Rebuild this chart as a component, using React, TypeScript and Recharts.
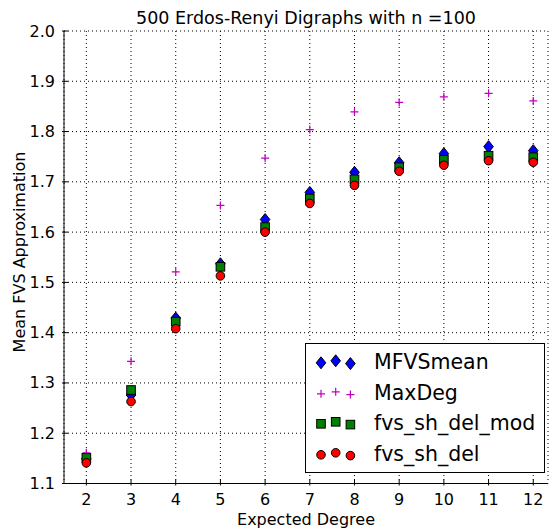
import { ScatterChart, Scatter, XAxis, YAxis, CartesianGrid } from 'recharts';

const degrees = [2, 3, 4, 5, 6, 7, 8, 9, 10, 11, 12];
const mfvsMean = [1.149, 1.276, 1.429, 1.537, 1.625, 1.679, 1.719, 1.738, 1.756, 1.770, 1.762];
const maxDeg = [1.161, 1.343, 1.521, 1.653, 1.747, 1.804, 1.839, 1.858, 1.869, 1.876, 1.861];
const fvsShDelMod = [1.151, 1.286, 1.422, 1.531, 1.610, 1.667, 1.705, 1.729, 1.744, 1.752, 1.749];
const fvsShDel = [1.141, 1.263, 1.408, 1.513, 1.600, 1.657, 1.693, 1.721, 1.733, 1.742, 1.739];
const yTicks = [1.1, 1.2, 1.3, 1.4, 1.5, 1.6, 1.7, 1.8, 1.9, 2.0];

const toPoints = (vals: number[]) => degrees.map((d, i) => ({ x: d, y: vals[i] }));

const FONT = 'DejaVu Sans, sans-serif';

const Diamond = ({ cx, cy }: any) => (
  <polygon
    points={`${cx},${cy - 6} ${cx + 4.8},${cy} ${cx},${cy + 6} ${cx - 4.8},${cy}`}
    fill='#0000ff'
    stroke='#000'
    strokeWidth={1}
  />
);

const Plus = ({ cx, cy }: any) => (
  <path d={`M${cx - 4},${cy}H${cx + 4}M${cx},${cy - 4}V${cy + 4}`} stroke='#bf00bf' strokeWidth={1.2} />
);

const Square = ({ cx, cy }: any) => (
  <rect x={cx - 4.3} y={cy - 4.3} width={8.6} height={8.6} fill='#008000' stroke='#000' strokeWidth={1} />
);

const Dot = ({ cx, cy }: any) => <circle cx={cx} cy={cy} r={4.3} fill='#ff0000' stroke='#000' strokeWidth={1} />;

const BottomTick = ({ x, y, payload }: any) => (
  <g>
    <line x1={x} y1={y} x2={x} y2={y - 6} stroke='#000' />
    <text x={x} y={y + 19} textAnchor='middle' fontFamily={FONT} fontSize={16} fill='#000'>
      {payload.value}
    </text>
  </g>
);

const TopTick = ({ x, y }: any) => <line x1={x} y1={y} x2={x} y2={y + 6} stroke='#000' />;

const LeftTick = ({ x, y, payload }: any) => (
  <g>
    <line x1={x} y1={y} x2={x + 6} y2={y} stroke='#000' />
    <text x={x - 7} y={y + 5.5} textAnchor='end' fontFamily={FONT} fontSize={16} fill='#000'>
      {payload.value.toFixed(1)}
    </text>
  </g>
);

const RightTick = ({ x, y }: any) => <line x1={x} y1={y} x2={x - 6} y2={y} stroke='#000' />;

const legendItems = [
  { name: 'MFVSmean', Mark: Diamond },
  { name: 'MaxDeg', Mark: Plus },
  { name: 'fvs_sh_del_mod', Mark: Square },
  { name: 'fvs_sh_del', Mark: Dot },
];
const jitter = [0.8, -1.2, 1.6];

export default function App() {
  return (
    <div style={{ position: 'absolute', left: 0, top: 0, width: 554, height: 530, background: '#fff' }}>
      <div
        style={{
          position: 'absolute',
          left: 64,
          width: 484,
          top: 8,
          lineHeight: '20px',
          textAlign: 'center',
          fontFamily: FONT,
          fontSize: 17.5,
          color: '#000',
        }}>
        500 Erdos-Renyi Digraphs with n =100
      </div>
      <div
        style={{
          position: 'absolute',
          left: 64,
          width: 484,
          top: 510,
          lineHeight: '20px',
          textAlign: 'center',
          fontFamily: FONT,
          fontSize: 16,
          color: '#000',
        }}>
        Expected Degree
      </div>
      <div
        style={{
          position: 'absolute',
          left: 19,
          top: 252,
          transform: 'translate(-50%, -50%) rotate(-90deg)',
          whiteSpace: 'nowrap',
          fontFamily: FONT,
          fontSize: 16,
          color: '#000',
        }}>
        Mean FVS Approximation
      </div>
      <ScatterChart width={554} height={530} margin={{ top: 31, right: 6, bottom: 0, left: 0 }}>
        <CartesianGrid xAxisId='b' yAxisId='l' stroke='#000' strokeDasharray='1 3' />
        <XAxis
          type='number'
          dataKey='x'
          xAxisId='b'
          domain={[1.5, 12.33]}
          ticks={degrees}
          allowDataOverflow
          height={46.5}
          tickLine={false}
          tickSize={0}
          tick={<BottomTick />}
          axisLine={{ stroke: '#000', strokeWidth: 1 }}
        />
        <XAxis
          type='number'
          dataKey='x'
          xAxisId='t'
          orientation='top'
          domain={[1.5, 12.33]}
          ticks={degrees}
          allowDataOverflow
          height={0}
          tickLine={false}
          tickSize={0}
          tick={<TopTick />}
          axisLine={{ stroke: '#000', strokeWidth: 1 }}
        />
        <YAxis
          type='number'
          dataKey='y'
          yAxisId='l'
          domain={[1.1, 2.0]}
          ticks={yTicks}
          allowDataOverflow
          width={64}
          tickLine={false}
          tickSize={0}
          tick={<LeftTick />}
          axisLine={{ stroke: '#000', strokeWidth: 1 }}
        />
        <YAxis
          type='number'
          dataKey='y'
          yAxisId='r'
          orientation='right'
          domain={[1.1, 2.0]}
          ticks={yTicks}
          allowDataOverflow
          width={0}
          tickLine={false}
          tickSize={0}
          tick={<RightTick />}
          axisLine={{ stroke: '#000', strokeWidth: 1 }}
        />
        <Scatter name='MFVSmean' data={toPoints(mfvsMean)} xAxisId='b' yAxisId='l' shape={<Diamond />} isAnimationActive={false} />
        <Scatter name='MaxDeg' data={toPoints(maxDeg)} xAxisId='b' yAxisId='l' shape={<Plus />} isAnimationActive={false} />
        <Scatter name='fvs_sh_del_mod' data={toPoints(fvsShDelMod)} xAxisId='b' yAxisId='l' shape={<Square />} isAnimationActive={false} />
        <Scatter name='fvs_sh_del' data={toPoints(fvsShDel)} xAxisId='b' yAxisId='l' shape={<Dot />} isAnimationActive={false} />
      </ScatterChart>
      <div
        style={{
          position: 'absolute',
          left: 305,
          top: 343,
          width: 238,
          height: 128,
          border: '1px solid #000',
          background: '#fff',
          fontFamily: FONT,
          fontSize: 20.5,
          color: '#000',
        }}>
        {legendItems.map(({ name, Mark }, i) => (
          <div key={name} style={{ position: 'absolute', left: 0, top: 3 + i * 30.5, height: 30, width: 238 }}>
            <svg width={60} height={30} style={{ position: 'absolute', left: 0, top: 0 }}>
              {jitter.map((j, k) => (
                <Mark key={k} cx={15 + k * 14.7} cy={15 + j} />
              ))}
            </svg>
            <span style={{ position: 'absolute', left: 68, top: 2, lineHeight: '26px' }}>{name}</span>
          </div>
        ))}
      </div>
    </div>
  );
}
